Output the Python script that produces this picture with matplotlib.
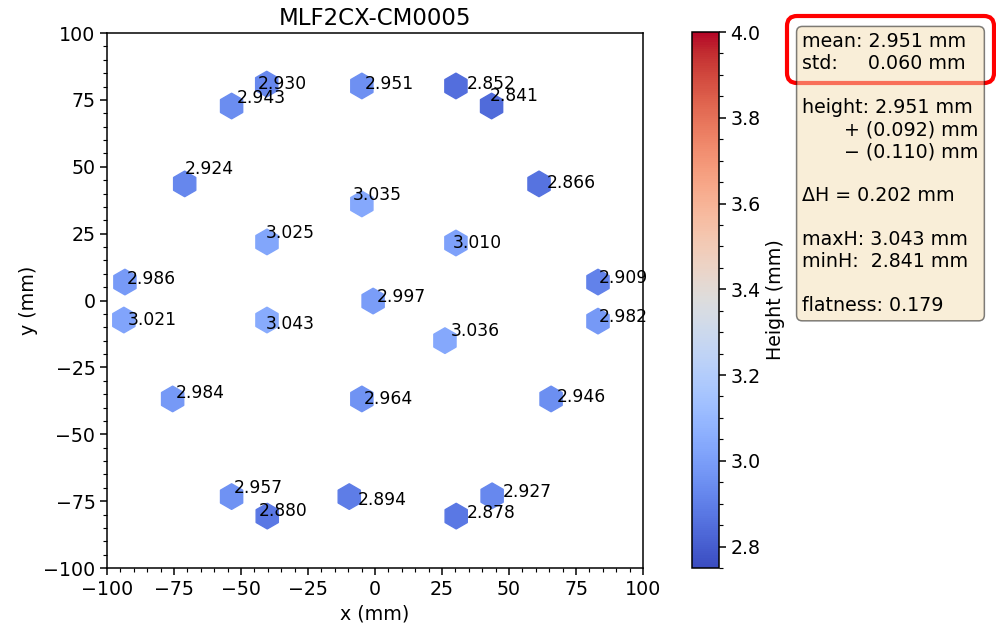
import matplotlib
matplotlib.use("Agg")
import matplotlib.pyplot as plt
import numpy as np
from matplotlib.patches import FancyBboxPatch
from matplotlib.transforms import IdentityTransform

# measured heights (mm) and pad positions (mm)
heights = [2.930, 2.943, 2.951, 2.852, 2.841,
           2.924, 2.866, 3.035, 3.025, 3.010,
           2.986, 2.909, 2.997, 3.021, 3.043,
           2.982, 3.036, 2.984, 2.964, 2.946,
           2.957, 2.880, 2.894, 2.927, 2.878]
pos_x = [-40.4, -53.5, -4.9, 30.2, 43.5,
         -71.0, 61.2, -4.9, -40.3, 30.2,
         -93.3, 83.2, -0.7, -93.7, -40.3,
         83.2, 26.1, -75.5, -4.9, 65.7,
         -53.5, -40.2, -9.6, 43.7, 30.3]
pos_y = [80.9, 72.7, 80.2, 80.2, 72.7,
         43.6, 43.6, 36.1, 21.9, 21.5,
         6.9, 6.9, -0.2, -7.3, -7.3,
         -7.7, -15.0, -36.8, -36.8, -36.8,
         -73.3, -80.6, -73.3, -73.0, -80.6]
flatness = 0.179
module_name = "MLF2CX-CM0005"

# label offsets in pixels (right, up) relative to each marker
label_offsets = [(-9, 2), (5, 10), (3, 4), (11, 4), (-2, 12),
                 (0, 17), (8, 3), (-9, 11), (-1, 11), (-3, 2),
                 (2, 5), (1, 6), (4, 6), (4, 2), (-1, -2),
                 (1, 6), (6, 12), (3, 8), (2, 2), (6, 4),
                 (2, 11), (-8, 7), (8, -1), (11, 6), (11, 5)]

k = 1.37
plt.rcParams.update({
    "font.size": 10 * k,
    "axes.linewidth": 0.8 * k,
    "xtick.major.size": 3.5 * k, "ytick.major.size": 3.5 * k,
    "xtick.minor.size": 2 * k, "ytick.minor.size": 2 * k,
    "xtick.major.width": 0.8 * k, "ytick.major.width": 0.8 * k,
    "xtick.minor.width": 0.6 * k, "ytick.minor.width": 0.6 * k,
})

fig = plt.figure(figsize=(9.96, 6.3), dpi=100)
ax = fig.add_axes([0.1074, 0.0984, 0.5382, 0.8492])
cax = fig.add_axes([0.6948, 0.0984, 0.0271, 0.8508])

h = np.array(heights)
sc = ax.scatter(pos_x, pos_y, c=h, cmap="coolwarm", vmin=2.75, vmax=4.0,
                marker="h", s=340)
for xi, yi, v, (dx, dy) in zip(pos_x, pos_y, heights, label_offsets):
    ax.annotate(f"{v:.3f}", (xi, yi), xytext=(dx, dy), textcoords="offset pixels",
                ha="left", va="center_baseline", fontsize=9 * k)

ax.set_xlim(-100, 100)
ax.set_ylim(-100, 100)
ax.set_xlabel("x (mm)")
ax.set_ylabel("y (mm)")
ax.set_title(module_name)
ax.minorticks_on()

cb = fig.colorbar(sc, cax=cax)
cb.set_label("Height (mm)")
cb.minorticks_on()
cb.outline.set_linewidth(0.8 * k)

mean = h.mean()
std = h.std()
hmax, hmin = h.max(), h.min()
stats = (f"mean: {mean:.3f} mm\n"
         f"std:     {std:.3f} mm\n\n"
         f"height: {mean:.3f} mm\n"
         f"       + ({hmax - mean:.3f}) mm\n"
         f"       \u2212 ({mean - hmin:.3f}) mm\n\n"
         f"\u0394H = {hmax - hmin:.3f} mm\n\n"
         f"maxH: {hmax:.3f} mm\n"
         f"minH:  {hmin:.3f} mm\n\n"
         f"flatness: {flatness:.3f}")
fig.text(0.8055, 0.949, stats, ha="left", va="top",
         bbox=dict(boxstyle="round", facecolor="wheat", alpha=0.5,
                   linewidth=0.8 * k))

# highlight around mean/std
hl = FancyBboxPatch((787, 630 - 83), 207, 67,
                    boxstyle="round,pad=0,rounding_size=10",
                    transform=IdentityTransform(), fill=False,
                    edgecolor="red", linewidth=3)
fig.patches.append(hl)

fig.savefig("out.png", dpi=100)
